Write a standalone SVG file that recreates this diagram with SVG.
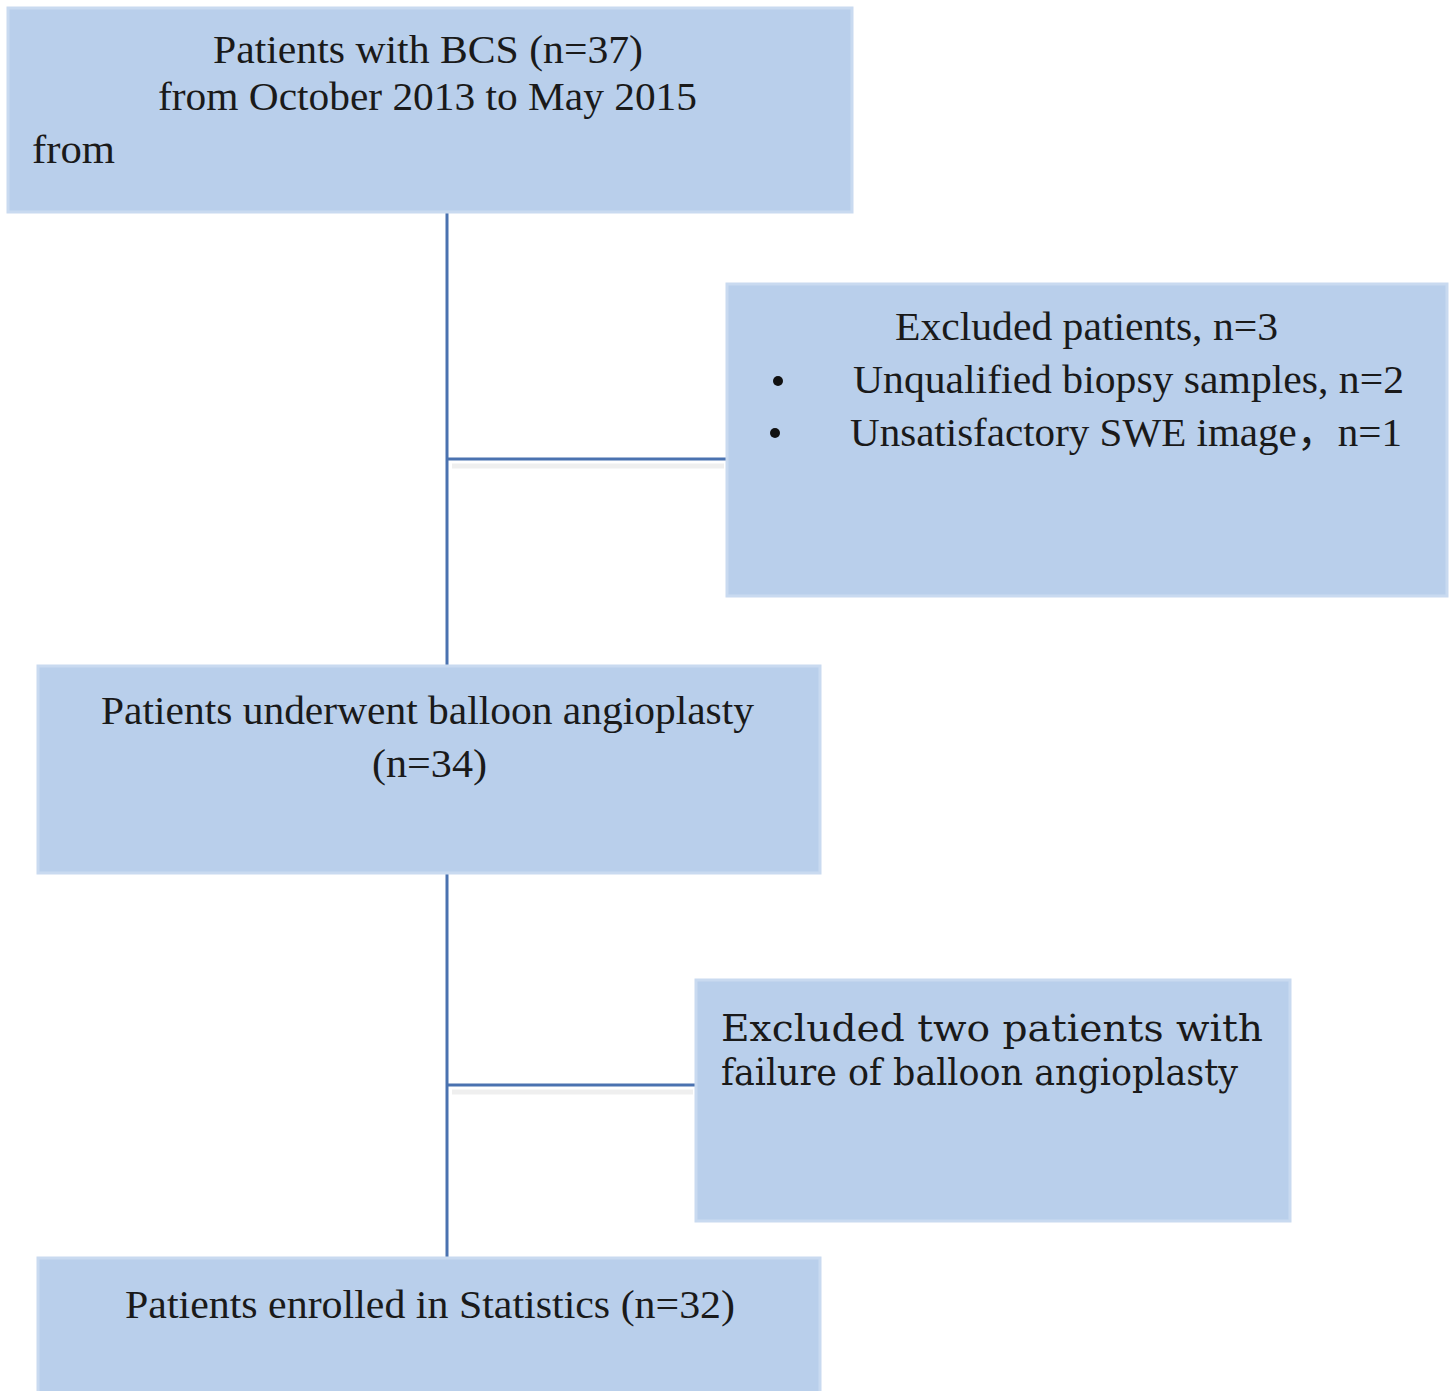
<svg xmlns="http://www.w3.org/2000/svg" width="1450" height="1391" viewBox="0 0 1450 1391">
<style>
.box{fill:#b9cfeb;stroke:#c9daf0;stroke-width:3}
.t{font-family:"Liberation Serif","Times New Roman","Noto Sans CJK SC",serif;font-size:41px;fill:#1a1a1a}
.c{font-family:"DejaVu Serif","Liberation Serif",serif;font-size:37px;fill:#1a1a1a}
.ln{stroke:#4a72b0;stroke-width:3;fill:none}
.sh{stroke:#efefef;stroke-width:5;fill:none}
</style>
<rect width="1450" height="1391" fill="#ffffff"/>
<g id="connectors">
<line class="sh" x1="452" y1="466" x2="724" y2="466"/>
<line class="sh" x1="452" y1="1092" x2="693" y2="1092"/>
<line class="ln" x1="447" y1="212" x2="447" y2="666"/>
<line class="ln" x1="447" y1="459" x2="727" y2="459"/>
<line class="ln" x1="447" y1="873" x2="447" y2="1258"/>
<line class="ln" x1="447" y1="1085" x2="696" y2="1085"/>
</g>
<g id="n1">
<rect class="box" x="8" y="8" width="844" height="204"/>
<text class="t" x="213" y="63" textLength="430" lengthAdjust="spacingAndGlyphs">Patients with BCS (n=37)</text>
<text class="t" x="158" y="110" textLength="539" lengthAdjust="spacingAndGlyphs">from October 2013 to May 2015</text>
<text class="t" x="32" y="163" textLength="83" lengthAdjust="spacingAndGlyphs">from</text>
</g>
<g id="n2">
<rect class="box" x="727" y="284" width="720" height="312"/>
<text class="t" x="895" y="340" textLength="383" lengthAdjust="spacingAndGlyphs">Excluded patients, n=3</text>
<circle cx="778" cy="381" r="5" fill="#111"/>
<text class="t" x="853" y="393" textLength="551" lengthAdjust="spacingAndGlyphs">Unqualified biopsy samples, n=2</text>
<circle cx="775" cy="433" r="5" fill="#111"/>
<text class="t" x="850" y="446" textLength="552" lengthAdjust="spacingAndGlyphs">Unsatisfactory SWE image，n=1</text>
</g>
<g id="n3">
<rect class="box" x="38" y="666" width="782" height="207"/>
<text class="t" x="101" y="724" textLength="653" lengthAdjust="spacingAndGlyphs">Patients underwent balloon angioplasty</text>
<text class="t" x="372" y="777" textLength="115" lengthAdjust="spacingAndGlyphs">(n=34)</text>
</g>
<g id="n4">
<rect class="box" x="696" y="980" width="594" height="241"/>
<text class="c" x="721" y="1041" textLength="542" lengthAdjust="spacingAndGlyphs">Excluded two patients with</text>
<text class="c" x="721" y="1085" textLength="517" lengthAdjust="spacingAndGlyphs">failure of balloon angioplasty</text>
</g>
<g id="n5">
<rect class="box" x="38" y="1258" width="782" height="140"/>
<text class="t" x="125" y="1318" textLength="610" lengthAdjust="spacingAndGlyphs">Patients enrolled in Statistics (n=32)</text>
</g>
</svg>
